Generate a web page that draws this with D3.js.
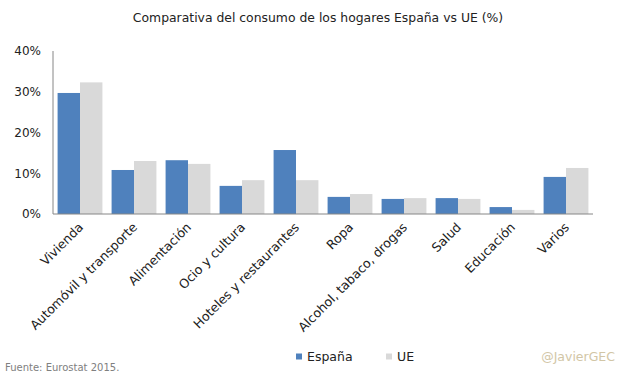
<!DOCTYPE html>
<html>
<head>
<meta charset="utf-8">
<script src="https://cdn.jsdelivr.net/npm/d3@7"></script>
<style>
  body { margin: 0; background: #fff; }
  svg text { font-family: "DejaVu Sans", sans-serif; }
</style>
</head>
<body>
<svg id="chart"></svg>
<script>
const categories = ["Vivienda", "Automóvil y transporte", "Alimentación", "Ocio y cultura",
  "Hoteles y restaurantes", "Ropa", "Alcohol, tabaco, drogas", "Salud", "Educación", "Varios"];
const espana = [29.7, 10.8, 13.2, 6.9, 15.7, 4.2, 3.7, 3.9, 1.7, 9.1];
const ue = [32.3, 13.0, 12.3, 8.3, 8.3, 4.9, 3.9, 3.7, 1.0, 11.3];
const yTicks = [0, 10, 20, 30, 40];
const seriesNames = ["España", "UE"];
const colors = ["#4f81bd", "#d9d9d9"];

const width = 628, height = 378;
const margin = { top: 51, right: 35, bottom: 164, left: 53 };

const svg = d3.select("#chart").attr("width", width).attr("height", height);

const x = d3.scaleBand()
  .domain(categories)
  .range([margin.left, width - margin.right])
  .paddingInner(0.17)
  .paddingOuter(0.085);

const xs = d3.scaleBand().domain(seriesNames).range([0, x.bandwidth()]);

const y = d3.scaleLinear().domain([0, 40]).range([height - margin.bottom, margin.top]);

// title
svg.append("text")
  .attr("x", 318).attr("y", 22)
  .attr("text-anchor", "middle")
  .attr("font-size", 12.4)
  .attr("fill", "#222")
  .text("Comparativa del consumo de los hogares España vs UE (%)");

// bars
const rows = categories.map((c, i) => ({ cat: c, vals: [espana[i], ue[i]] }));
const groups = svg.append("g").selectAll("g").data(rows).join("g")
  .attr("transform", d => `translate(${x(d.cat)},0)`);
groups.selectAll("rect")
  .data(d => d.vals.map((v, j) => ({ name: seriesNames[j], v, j })))
  .join("rect")
  .attr("x", d => xs(d.name))
  .attr("width", xs.bandwidth())
  .attr("y", d => y(d.v))
  .attr("height", d => y(0) - y(d.v))
  .attr("fill", d => colors[d.j]);

// y axis
const yAxis = svg.append("g")
  .attr("transform", `translate(${margin.left},0)`)
  .call(d3.axisLeft(y).tickValues(yTicks).tickSize(0).tickPadding(12).tickFormat(d => d + "%"));
yAxis.select(".domain").attr("stroke", "#868686").attr("d", `M0,${y(40)}V${y(0)}`);
yAxis.selectAll("text").attr("font-size", 12).attr("fill", "#222").attr("font-family", "DejaVu Sans");

// x axis
const xAxis = svg.append("g")
  .attr("transform", `translate(0,${y(0)})`)
  .call(d3.axisBottom(x).tickSize(0).tickPadding(0));
xAxis.select(".domain").attr("stroke", "#868686").attr("d", `M${margin.left},0H${width - margin.right}`);
xAxis.selectAll("text")
  .attr("font-size", 12.6)
  .attr("fill", "#222")
  .attr("font-family", "DejaVu Sans")
  .attr("text-anchor", "end")
  .attr("dy", 0)
  .attr("transform", "translate(4,14) rotate(-45)");

// legend
const legend = svg.append("g");
const legendX = [296, 386];
seriesNames.forEach((n, i) => {
  legend.append("rect").attr("x", legendX[i]).attr("y", 353.5).attr("width", 6).attr("height", 6).attr("fill", colors[i]);
  legend.append("text").attr("x", legendX[i] + 11).attr("y", 361)
    .attr("font-size", 12.5).attr("fill", "#222").text(n);
});

// source and credit
svg.append("text").attr("x", 5).attr("y", 371)
  .attr("font-size", 10).attr("fill", "#808080").text("Fuente: Eurostat 2015.");
svg.append("text").attr("x", 615).attr("y", 361).attr("text-anchor", "end")
  .attr("font-size", 12.5).attr("fill", "#d2c6a6").text("@JavierGEC");
</script>
</body>
</html>
